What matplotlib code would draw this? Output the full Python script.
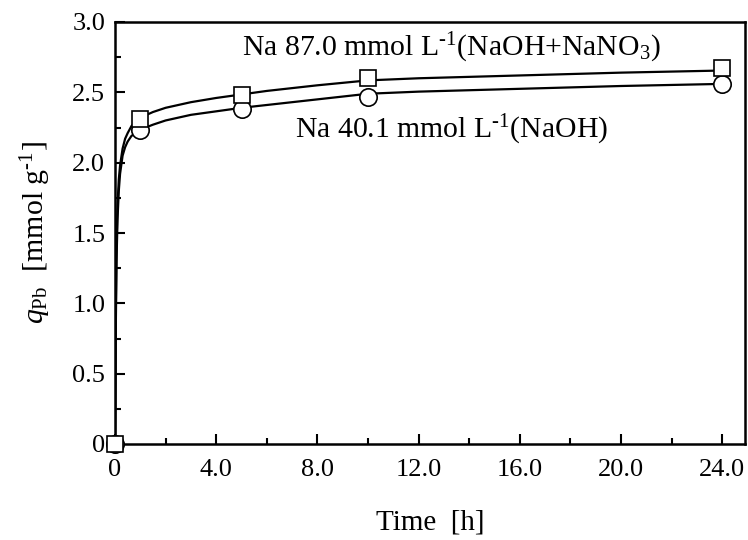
import matplotlib
matplotlib.use('Agg')
import matplotlib.pyplot as plt
from matplotlib.ticker import MultipleLocator, FuncFormatter

plt.rcParams['font.family'] = ['Liberation Serif', 'DejaVu Serif']
plt.rcParams['mathtext.fontset'] = 'custom'
plt.rcParams['mathtext.rm'] = 'Liberation Serif'
plt.rcParams['mathtext.it'] = 'Liberation Serif:italic'

# measured points
t_obs = [0, 1, 5, 10, 24]
q_na87 = [0, 2.31, 2.48, 2.60, 2.675]   # NaOH+NaNO3, squares
q_na40 = [0, 2.23, 2.38, 2.47, 2.56]    # NaOH, circles

# fitted curves
t_fit = [0, 0.03, 0.06, 0.1, 0.15, 0.2, 0.3, 0.4, 0.5, 0.65, 0.8, 1,
         1.5, 2, 3, 4, 5, 6, 8, 10, 12, 16, 20, 24]
q_fit87 = [0, 0.9, 1.4, 1.7, 1.88, 1.98, 2.1, 2.17, 2.21, 2.26, 2.29, 2.32,
           2.36, 2.39, 2.43, 2.46, 2.485, 2.51, 2.55, 2.585, 2.60, 2.62, 2.64, 2.655]
q_fit40 = [0, 0.8, 1.3, 1.6, 1.8, 1.92, 2.05, 2.11, 2.15, 2.19, 2.21, 2.235,
           2.27, 2.30, 2.34, 2.365, 2.39, 2.41, 2.45, 2.49, 2.505, 2.525, 2.545, 2.56]

fig = plt.figure(figsize=(7.48, 5.40), dpi=100)
ax = fig.add_axes([115/748., 1-444/540., (745-115)/748., (444-22)/540.])

ax.plot(t_fit, q_fit40, '-', color='k', lw=1.6, zorder=2)
ax.plot(t_fit, q_fit87, '-', color='k', lw=1.6, zorder=2)
ax.plot(t_obs, q_na40, 'o', ms=12.5, mfc='white', mec='k', mew=1.2,
        clip_on=False, zorder=3)
ax.plot(t_obs, q_na87, 's', ms=12, mfc='white', mec='k', mew=1.2,
        clip_on=False, zorder=4)

ax.set_xlim(0, 24.9)
ax.set_ylim(0, 3.0)
ax.xaxis.set_major_locator(MultipleLocator(4))
ax.xaxis.set_minor_locator(MultipleLocator(2))
ax.yaxis.set_major_locator(MultipleLocator(0.5))
ax.yaxis.set_minor_locator(MultipleLocator(0.25))

fmt = FuncFormatter(lambda v, p: '0' if abs(v) < 1e-9 else '{:.1f}'.format(v))
ax.xaxis.set_major_formatter(fmt)
ax.yaxis.set_major_formatter(fmt)

ax.tick_params(which='both', direction='in', top=False, right=False,
               width=1.5, labelsize=19)
ax.tick_params(axis='x', which='major', length=7, pad=11)
ax.tick_params(axis='y', which='major', length=7, pad=7)
ax.tick_params(which='minor', length=4)
for s in ax.spines.values():
    s.set_linewidth(1.8)

ax.set_xlabel('Time  [h]', fontsize=21, labelpad=20)
ax.set_ylabel(r'$q_{\rm Pb}$  [mmol g$^{\text{-1}}$]', fontsize=21.5, labelpad=14)

ax.text(13.3, 2.815, r'Na 87.0 mmol L$^{\text{-1}}$(NaOH+NaNO$_{\rm 3}$)',
        ha='center', va='center', fontsize=21.4)
ax.text(13.3, 2.23, r'Na 40.1 mmol L$^{\text{-1}}$(NaOH)',
        ha='center', va='center', fontsize=21.4)

plt.savefig('out.png', dpi=100)
